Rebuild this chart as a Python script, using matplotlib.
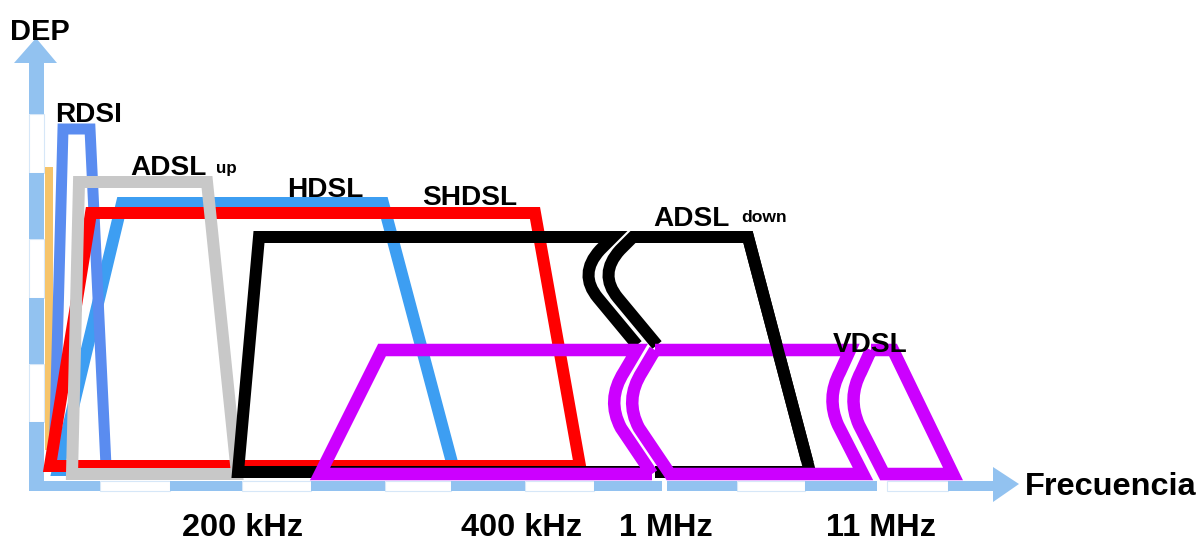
import matplotlib
matplotlib.use("Agg")
import matplotlib.pyplot as plt
from matplotlib.path import Path
from matplotlib.patches import PathPatch, Polygon, Rectangle

# ---------------- data (chart coordinates: x = frequency position, y = row, down is lower DEP) -------------
W, H = 1202, 543

y_axis_label = "DEP"
x_axis_label = "Frecuencia"
tick_labels = ["200 kHz", "400 kHz", "1 MHz", "11 MHz"]
tick_label_left = [182, 461, 619, 826]
tick_label_base = 536

# band outlines (corner points of each trapezoid)
rdsi_x = [54, 63, 90, 106]
rdsi_y = [466, 129, 129, 466]
adsl_up_x = [72, 79, 207, 237]
adsl_up_y = [474, 182, 182, 474]
hdsl_x = [58, 122, 383, 454]
hdsl_y = [470, 203, 203, 470]
shdsl_x = [50, 91, 535, 580]
shdsl_y = [466, 213, 213, 466]

# ADSL down (black), split by a frequency-axis break (M move, L line, Q quadratic bend: control, end)
adsl_down_left = [(637, 345), (598, 298), (578, 274), (600, 250), (613, 237), (259, 237), (238, 472), (650, 472)]
adsl_down_left_codes = ["M", "L", "Q", "Q", "L", "L", "L", "L"]
adsl_down_right = [(655, 472), (810, 472), (748, 237), (633, 237), (620, 250), (598, 274), (618, 298), (657, 345)]
adsl_down_right_codes = ["M", "L", "L", "L", "L", "Q", "Q", "L"]

# VDSL (violet), split by two breaks
vdsl_a = [(652, 474), (320, 474), (382, 350), (637, 350), (624, 372), (606, 400), (621, 428), (652, 474)]
vdsl_a_codes = ["M", "L", "L", "L", "L", "Q", "Q", "L"]
vdsl_b = [(655, 350), (642, 372), (624, 400), (639, 428), (670, 474), (863, 474),
          (838, 425), (826, 398), (840, 372), (850, 350), (655, 350)]
vdsl_b_codes = ["M", "L", "Q", "Q", "L", "L", "L", "Q", "Q", "L", "L"]
vdsl_c = [(871, 350), (893, 350), (953, 474), (884, 474), (859, 425), (847, 398), (861, 372), (871, 350)]
vdsl_c_codes = ["M", "L", "L", "L", "L", "Q", "Q", "L"]

# band labels: (text, left x, baseline y, size px)
band_labels = [("RDSI", 55, 122, 28), ("ADSL", 130, 175, 28), ("HDSL", 287, 197, 28),
               ("SHDSL", 422, 205, 28), ("ADSL", 653, 226, 28), ("VDSL", 833, 352, 28)]
small_labels = [("up", 216, 173, 17), ("down", 741, 222, 17.5)]

# axis dash pattern
h_axis_blue = [(29, 100), (170, 242), (311, 385), (451, 525), (594, 662), (667, 737), (805, 877), (948, 994)]
h_axis_white = [(100, 170), (242, 311), (385, 451), (525, 594), (737, 805), (887, 948)]
v_axis_blue = [(62, 114), (173, 239), (298, 364), (422, 491)]
v_axis_white = [(114, 173), (239, 298), (364, 422)]

# ---------------- style ----------------
AXIS_BLUE = "#92c2f0"
PALE = "#d6e7f8"
C_RDSI = "#5a8cf0"
C_HDSL = "#3d9ef2"
C_SHDSL = "#ff0000"
C_ADSLUP = "#c8c8c8"
C_ADSLDN = "#000000"
C_VDSL = "#cc00ff"
C_POTS = "#f6c46a"

PX = 72 / 100.0  # px -> pt at dpi 100
FONT = "Liberation Sans"

fig = plt.figure(figsize=(W / 100, H / 100), dpi=100)
ax = fig.add_axes([0, 0, 1, 1])
ax.set_xlim(0, W)
ax.set_ylim(H, 0)
ax.axis("off")

# axes bands
for x0, x1 in h_axis_blue:
    ax.add_patch(Rectangle((x0, 481), x1 - x0, 10, facecolor=AXIS_BLUE, edgecolor="none", zorder=0.5))
for x0, x1 in h_axis_white:
    ax.add_patch(Rectangle((x0, 481), x1 - x0, 10, facecolor="white", edgecolor=PALE, lw=0.8, zorder=0.4))
for y0, y1 in v_axis_blue:
    ax.add_patch(Rectangle((29, y0), 15, y1 - y0, facecolor=AXIS_BLUE, edgecolor="none", zorder=0.5))
for y0, y1 in v_axis_white:
    ax.add_patch(Rectangle((29, y0), 15, y1 - y0, facecolor="white", edgecolor=PALE, lw=0.8, zorder=0.4))
ax.add_patch(Polygon([(14, 63), (57, 63), (36, 38)], closed=True, facecolor=AXIS_BLUE, edgecolor="none", zorder=0.5))
ax.add_patch(Polygon([(993, 467), (993, 502), (1019, 484)], closed=True, facecolor=AXIS_BLUE, edgecolor="none", zorder=0.5))

# POTS strip
ax.add_patch(Rectangle((45, 167), 8, 283, facecolor=C_POTS, edgecolor="none", zorder=1))


def trapezoid(xs, ys, color, lw_px, z):
    ax.add_patch(Polygon(list(zip(xs, ys)), closed=True, fill=False, edgecolor=color,
                         lw=lw_px * PX, joinstyle="miter", zorder=z))


CODE = {"M": Path.MOVETO, "L": Path.LINETO, "Q": Path.CURVE3}


def outline(pts, codes, color, lw_px, z, clip=None):
    p = PathPatch(Path(pts, [CODE[c] for c in codes]), fill=False, edgecolor=color,
                  lw=lw_px * PX, joinstyle="miter", capstyle="butt", zorder=z)
    ax.add_patch(p)
    if clip is not None:
        p.set_clip_path(clip)
    return p


trapezoid(hdsl_x, hdsl_y, C_HDSL, 12, 2)
trapezoid(rdsi_x, rdsi_y, C_RDSI, 11, 3)
trapezoid(shdsl_x, shdsl_y, C_SHDSL, 12, 4)
trapezoid(adsl_up_x, adsl_up_y, C_ADSLUP, 12, 5)
outline(adsl_down_left, adsl_down_left_codes, C_ADSLDN, 12, 6)
outline(adsl_down_right, adsl_down_right_codes, C_ADSLDN, 12, 6)
for pts, codes in [(vdsl_a, vdsl_a_codes), (vdsl_b, vdsl_b_codes), (vdsl_c, vdsl_c_codes)]:
    outline(pts, codes, C_VDSL, 12.5, 7)
# black descending edge passes over the VDSL top line
clip_rect = Rectangle((700, 0), 200, 462, transform=ax.transData)
outline(adsl_down_right, adsl_down_right_codes, C_ADSLDN, 12, 8, clip=clip_rect)

# texts
ax.text(10, 40, y_axis_label, fontsize=29 * PX, fontweight="bold", family=FONT, ha="left", va="baseline", zorder=10)
ax.text(1025, 495, x_axis_label, fontsize=32.5 * PX, fontweight="bold", family=FONT, ha="left", va="baseline", zorder=10)
for lab, x in zip(tick_labels, tick_label_left):
    ax.text(x, tick_label_base, lab, fontsize=32.5 * PX, fontweight="bold", family=FONT, ha="left", va="baseline", zorder=10)
for lab, x, y, s in band_labels + small_labels:
    ax.text(x, y, lab, fontsize=s * PX, fontweight="bold", family=FONT, ha="left", va="baseline", zorder=10)

fig.savefig("out.png", dpi=100)
